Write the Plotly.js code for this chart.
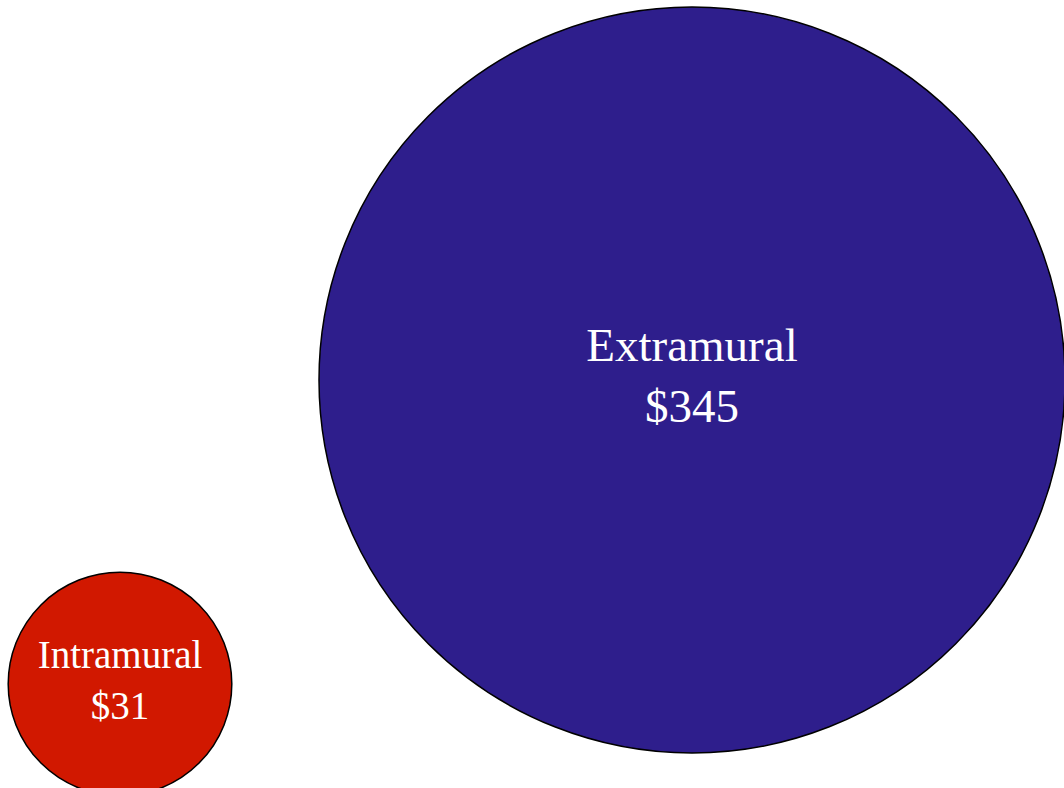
<!DOCTYPE html>
<html>
<head>
<meta charset="utf-8">
<script src="https://cdn.plot.ly/plotly-3.0.1.min.js"></script>
<style>
  html, body { margin: 0; padding: 0; background: #ffffff; }
  #chart { width: 1064px; height: 788px; }
</style>
</head>
<body>
<div id="chart"></div>
<script>
// Data
const categories = ['Intramural', 'Extramural'];
const values = [31, 345];            // dollars
const colors = ['#D11800', '#2E1E8C'];

// Layout placement of bubble centres (pixel-like paper units)
const xPos = [120, 692];
const yPos = [684, 380];
const labelSizes = [39, 47];

const labels = categories.map((c, i) => c + '<br>$' + values[i]);

const maxDiameter = 746;
const sizeref = 2 * Math.max(...values) / (maxDiameter * maxDiameter);

const trace = {
  type: 'scatter',
  mode: 'markers+text',
  x: xPos,
  y: yPos,
  text: labels,
  textposition: 'middle center',
  textfont: { family: '"Liberation Serif", "Times New Roman", serif', size: labelSizes, color: '#ffffff' },
  marker: {
    size: values,
    sizemode: 'area',
    sizeref: sizeref,
    color: colors,
    opacity: 1,
    line: { color: '#000000', width: 1.5 }
  },
  hoverinfo: 'skip',
  showlegend: false,
  cliponaxis: true
};

const layout = {
  width: 1064,
  height: 788,
  margin: { l: 0, r: 0, t: 0, b: 0, pad: 0 },
  paper_bgcolor: '#ffffff',
  plot_bgcolor: '#ffffff',
  xaxis: { range: [0, 1064], visible: false, fixedrange: true },
  yaxis: { range: [788, 0], visible: false, fixedrange: true },
  showlegend: false
};

Plotly.newPlot('chart', [trace], layout, { displayModeBar: false, staticPlot: true });
</script>
</body>
</html>
